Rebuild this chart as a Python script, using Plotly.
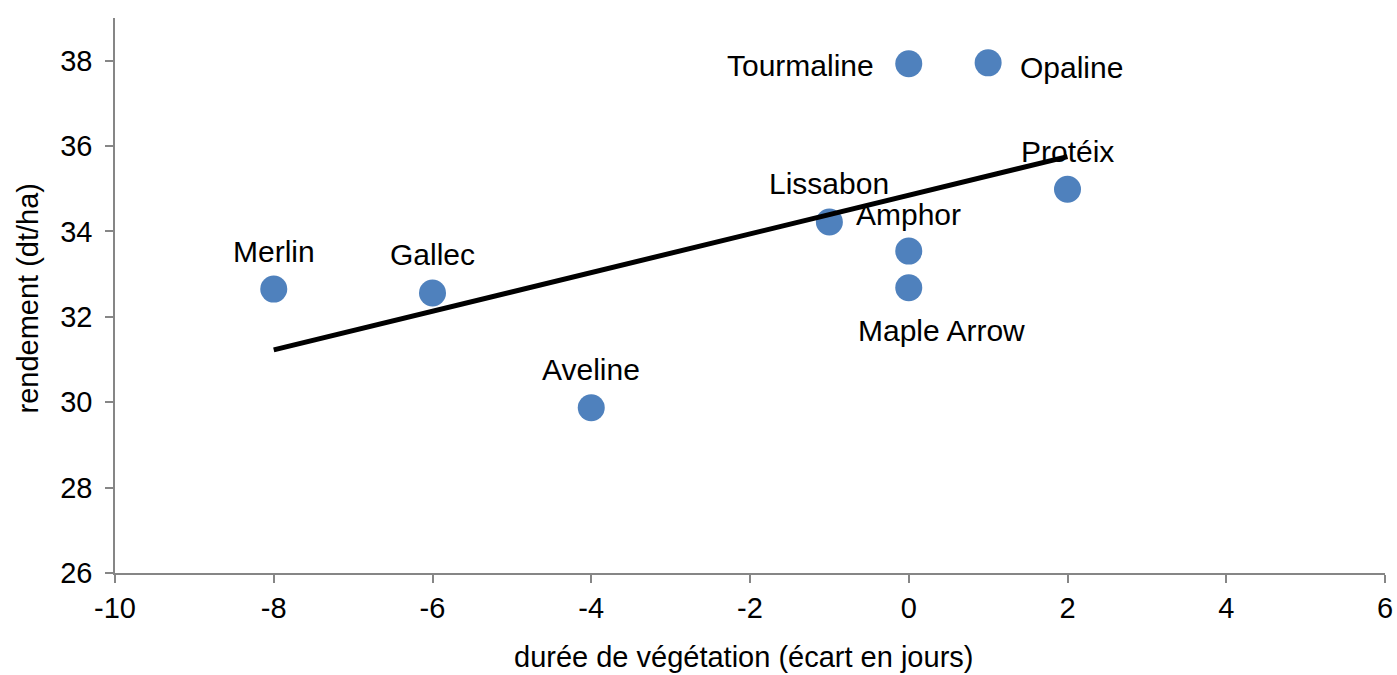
import numpy as np
import plotly.graph_objects as go

varieties = ["Merlin", "Gallec", "Aveline", "Lissabon", "Amphor", "Maple Arrow", "Protéix", "Tourmaline", "Opaline"]
duree = [-8, -6, -4, -1, 0, 0, 2, 0, 1]
rendement = [32.65, 32.56, 29.87, 34.22, 33.54, 32.68, 34.99, 37.93, 37.95]

x_ticks = [-10, -8, -6, -4, -2, 0, 2, 4, 6]
y_ticks = [26, 28, 30, 32, 34, 36, 38]

x_title = "durée de végétation (écart en jours)"
y_title = "rendement (dt/ha)"

# label placement: (xanchor, xshift px, yshift px)
label_pos = {
    "Merlin": ("center", 0, 38),
    "Gallec": ("center", 0, 38),
    "Aveline": ("center", 0, 38),
    "Lissabon": ("center", 0, 39),
    "Amphor": ("center", 0, 37),
    "Maple Arrow": ("center", 33, -43),
    "Protéix": ("center", 0, 38),
    "Tourmaline": ("right", -33, -2),
    "Opaline": ("left", 30, -5),
}

FONT = "Liberation Sans, Arial, sans-serif"
FS = 30
TFS = 29
AFS = 29

slope, intercept = np.polyfit(duree, rendement, 1)
tx = [min(duree), max(duree)]
ty = [slope * v + intercept for v in tx]

fig = go.Figure()
fig.add_trace(go.Scatter(
    x=duree, y=rendement, mode="markers",
    marker=dict(size=27, color="#4F81BD", line=dict(width=0)),
    showlegend=False, hoverinfo="skip",
))
fig.add_trace(go.Scatter(
    x=tx, y=ty, mode="lines",
    line=dict(color="black", width=5),
    showlegend=False, hoverinfo="skip",
))

for name, x, y in zip(varieties, duree, rendement):
    xa, xs, ys = label_pos[name]
    fig.add_annotation(
        x=x, y=y, text=name, showarrow=False,
        xanchor=xa, yanchor="middle", xshift=xs, yshift=ys,
        font=dict(family=FONT, size=FS, color="black"),
    )

# axis titles
fig.add_annotation(
    xref="paper", yref="paper", x=0.5, y=0, xshift=-7, yshift=-84,
    xanchor="center", yanchor="middle", text=x_title, showarrow=False,
    font=dict(family=FONT, size=AFS, color="black"),
)
fig.add_annotation(
    xref="paper", yref="paper", x=0, y=0.5, xshift=-88, yshift=-3,
    xanchor="center", yanchor="middle", text=y_title, showarrow=False, textangle=-90,
    font=dict(family=FONT, size=AFS, color="black"),
)

axis_common = dict(
    showgrid=False, zeroline=False, showline=True, automargin=False,
    linecolor="#868686", linewidth=1.5,
    ticks="outside", ticklen=8, tickcolor="#868686", tickwidth=1.5,
    tickfont=dict(family=FONT, size=TFS, color="black"),
)

fig.update_layout(
    width=1397, height=675,
    margin=dict(l=115, r=12, t=18, b=102),
    plot_bgcolor="white", paper_bgcolor="white",
    xaxis=dict(range=[-10, 6], tickvals=x_ticks, ticktext=[str(v) for v in x_ticks], **axis_common),
    yaxis=dict(range=[26, 39], tickvals=y_ticks, ticktext=[str(v) for v in y_ticks],
               ticklabelstandoff=7, **axis_common),
)

fig.write_html(
    "out.html",
    config={"displayModeBar": False},
    post_script="document.body.style.margin='0';document.body.style.overflow='hidden';",
)
